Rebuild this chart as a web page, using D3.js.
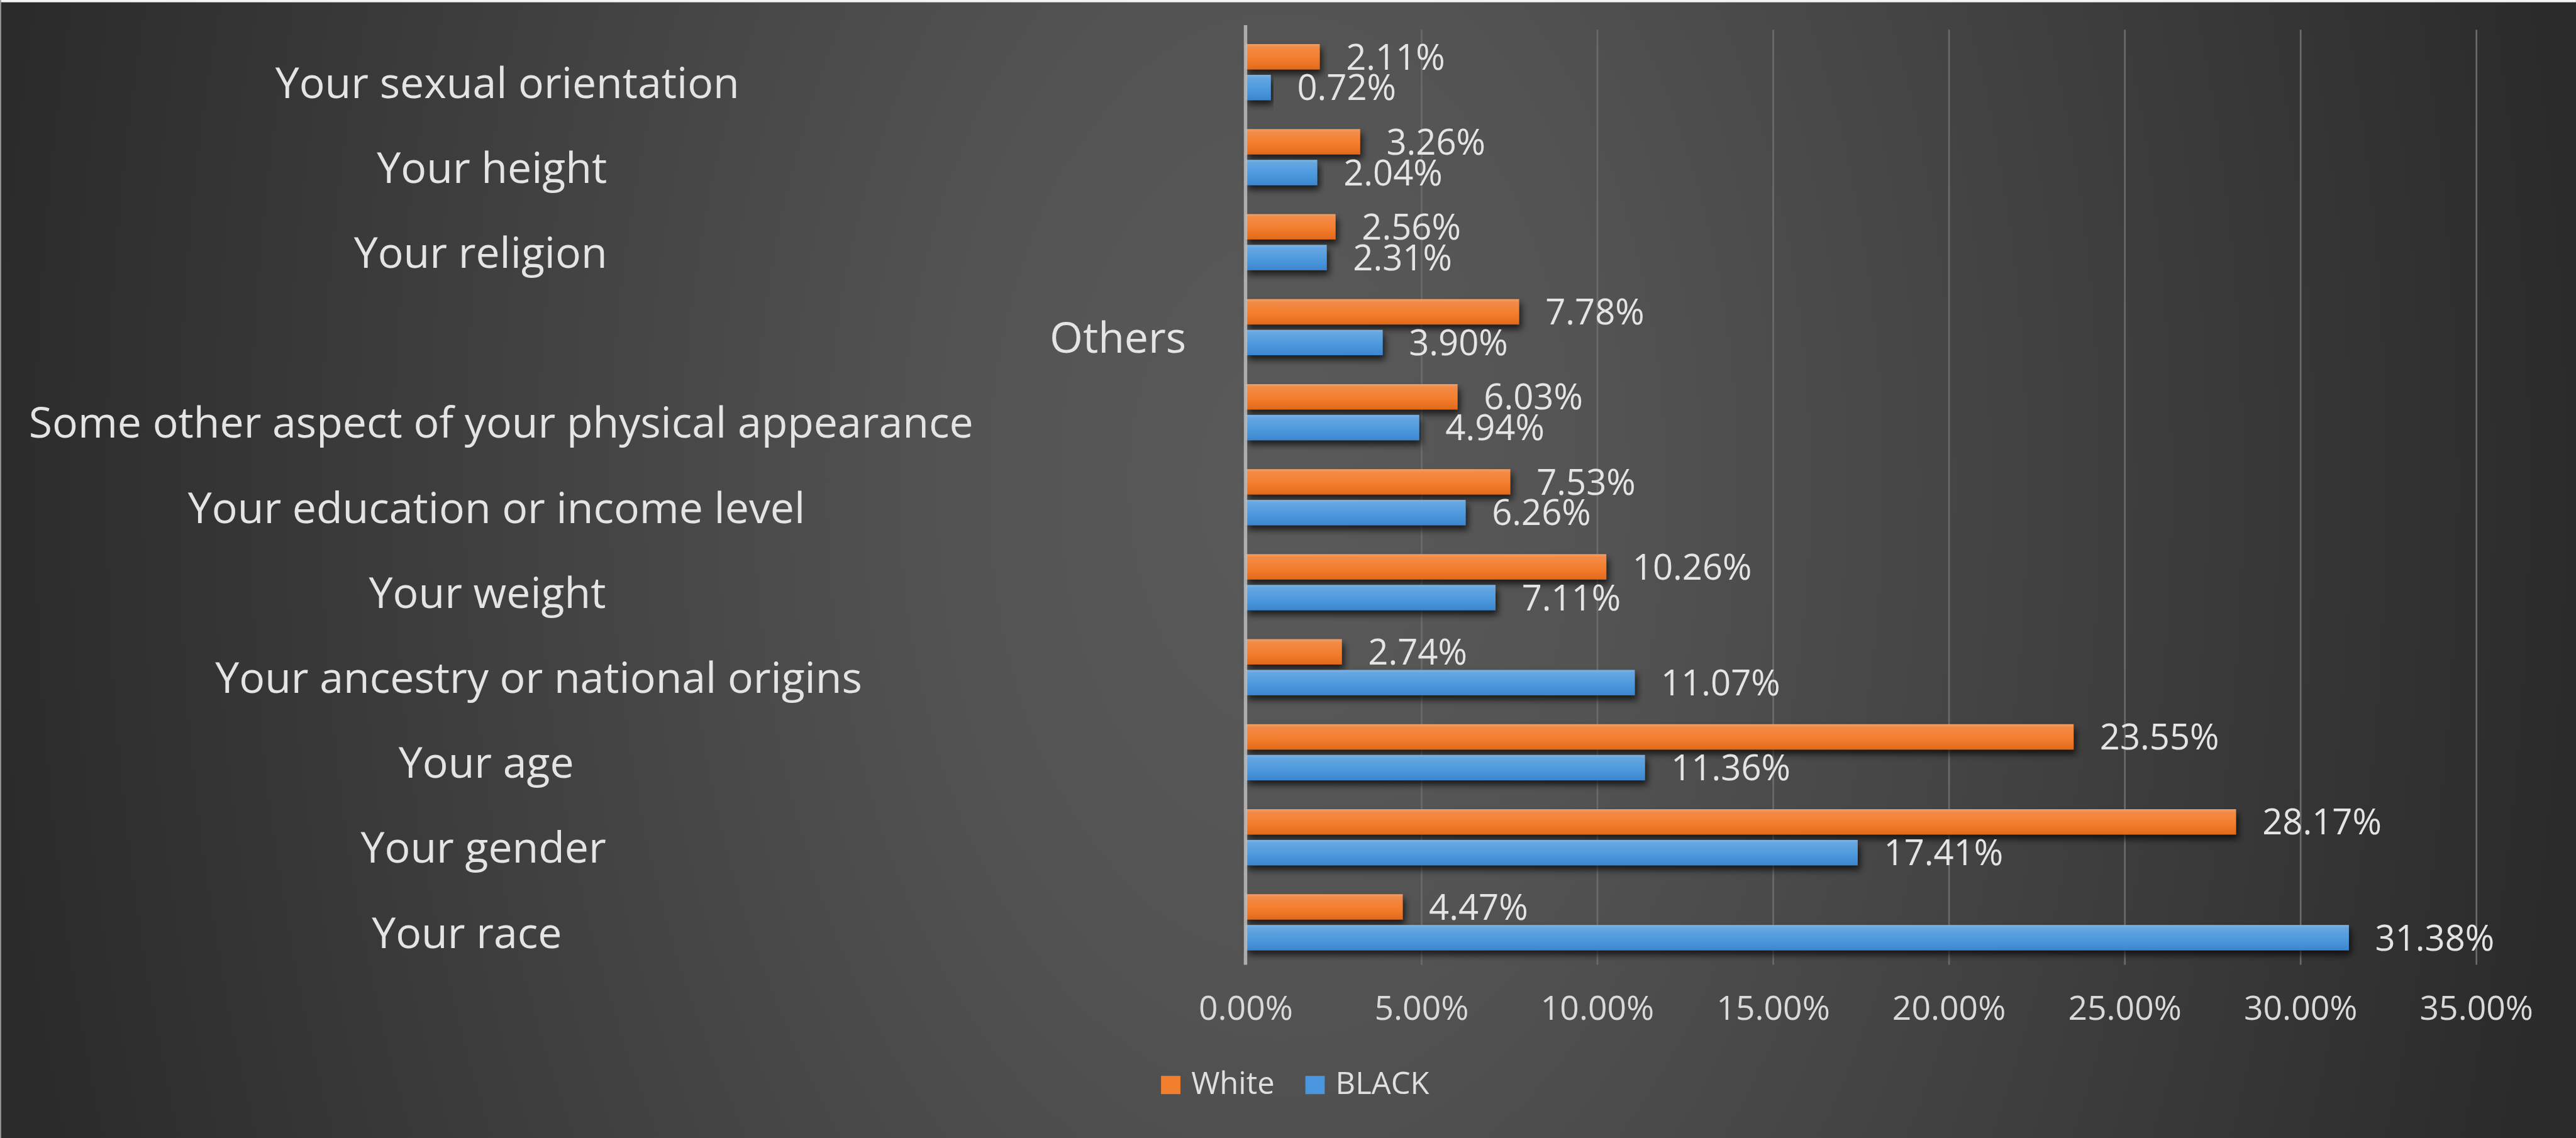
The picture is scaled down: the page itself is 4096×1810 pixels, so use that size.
<!DOCTYPE html>
<html>
<head>
<meta charset="utf-8">
<script src="https://cdn.jsdelivr.net/npm/d3@7"></script>
<style>
  html, body { margin: 0; padding: 0; background: #2a2a2a; overflow: hidden; }
  svg { display: block; }
  text { font-family: "Open Sans", Lato, sans-serif; }
</style>
</head>
<body>
<svg id="chart" width="4096" height="1810" viewBox="0 0 4519 1997"></svg>
<script>
// Categories, listed top to bottom as they appear on the chart
const categories = [
  "Your sexual orientation",
  "Your height",
  "Your religion",
  "Others",
  "Some other aspect of your physical appearance",
  "Your education or income level",
  "Your weight",
  "Your ancestry or national origins",
  "Your age",
  "Your gender",
  "Your race"
];

// Share of respondents (%) per group
const whiteValues = [2.11, 3.26, 2.56, 7.78, 6.03, 7.53, 10.26, 2.74, 23.55, 28.17, 4.47];
const blackValues = [0.72, 2.04, 2.31, 3.90, 4.94, 6.26, 7.11, 11.07, 11.36, 17.41, 31.38];

const seriesNames = ["White", "BLACK"];
const xTicks = [0, 5, 10, 15, 20, 25, 30, 35];

// Horizontal nudges for the category labels (layout only)
const labelDx = {
  "Your sexual orientation": 23, "Your height": -4, "Your religion": -24,
  "Some other aspect of your physical appearance": 12, "Your education or income level": 4,
  "Your weight": -12, "Your ancestry or national origins": 78, "Your age": -14,
  "Your gender": -19, "Your race": -48
};

const W = 4519, H = 1997;
const plot = { left: 2185, right: 4344, top: 52, bottom: 1693 };
const FONT = "'Open Sans', Lato, sans-serif";
const svg = d3.select("#chart");
const defs = svg.append("defs");

// Background: soft elliptical glow, darker toward the edges
const bg = defs.append("radialGradient").attr("id", "bgGrad")
  .attr("gradientUnits", "userSpaceOnUse")
  .attr("cx", 2250).attr("cy", 850).attr("r", 2300)
  .attr("gradientTransform", "translate(2250,850) scale(1,1.6) translate(-2250,-850)");
bg.append("stop").attr("offset", 0).attr("stop-color", "#5a5a5a");
bg.append("stop").attr("offset", 0.25).attr("stop-color", "#535353");
bg.append("stop").attr("offset", 0.6).attr("stop-color", "#404040");
bg.append("stop").attr("offset", 1).attr("stop-color", "#2a2a2a");

svg.append("rect").attr("width", W).attr("height", H).attr("fill", "url(#bgGrad)");
svg.append("rect").attr("width", W).attr("height", 4).attr("fill", "#f4f4f4");
svg.append("rect").attr("width", 2).attr("height", H).attr("fill", "#9a9a9a");

// Bar fills
function barGradient(id, stops) {
  const g = defs.append("linearGradient").attr("id", id)
    .attr("x1", 0).attr("y1", 0).attr("x2", 0).attr("y2", 1);
  stops.forEach(([o, c]) => g.append("stop").attr("offset", o).attr("stop-color", c));
}
barGradient("gradWhite", [[0, "#f2a068"], [0.12, "#f28b48"], [0.55, "#f47e2e"], [1, "#e2691b"]]);
barGradient("gradBlack", [[0, "#7db3e5"], [0.12, "#66a6e0"], [0.55, "#4e9ade"], [1, "#3c86cf"]]);

const shadow = defs.append("filter").attr("id", "barShadow")
  .attr("x", "-5%").attr("y", "-40%").attr("width", "115%").attr("height", "200%");
shadow.append("feDropShadow").attr("dx", 4).attr("dy", 8).attr("stdDeviation", 6)
  .attr("flood-color", "#000").attr("flood-opacity", 0.7);

// Scales
const x = d3.scaleLinear().domain([0, 35]).range([plot.left, plot.right]);
const y = d3.scaleBand().domain(categories).range([plot.top, plot.bottom]).padding(0);
const ySub = d3.scaleBand().domain(seriesNames).range([0, y.bandwidth()])
  .paddingInner(0.176).paddingOuter(0.47);

// Gridlines + tick labels via a bottom axis
const xAxis = d3.axisBottom(x).tickValues(xTicks)
  .tickSize(-(plot.bottom - plot.top)).tickFormat(d => d.toFixed(2) + "%");
const axisG = svg.append("g").attr("transform", `translate(0,${plot.bottom})`).call(xAxis);
axisG.select(".domain").remove();
axisG.selectAll(".tick line").attr("stroke", "#6a6a6a").attr("stroke-width", 3)
  .filter(d => d === 0).attr("stroke", "none");
axisG.selectAll(".tick text")
  .attr("y", 97).attr("dy", 0)
  .attr("fill", "#d9d9d9").attr("font-size", 59)
  .attr("font-family", FONT);

// Bars
const rows = categories.map((c, i) => ({ cat: c, values: [whiteValues[i], blackValues[i]] }));
const fills = { White: "url(#gradWhite)", BLACK: "url(#gradBlack)" };

const group = svg.append("g").selectAll("g").data(rows).join("g")
  .attr("transform", d => `translate(0,${y(d.cat)})`);

const cells = group.selectAll("g.cell")
  .data(d => seriesNames.map((s, k) => ({ series: s, value: d.values[k] })))
  .join("g").attr("class", "cell");

cells.append("rect")
  .attr("x", x(0))
  .attr("y", d => ySub(d.series))
  .attr("width", d => x(d.value) - x(0))
  .attr("height", ySub.bandwidth())
  .attr("fill", d => fills[d.series])
  .attr("filter", "url(#barShadow)");

cells.append("text")
  .attr("x", d => x(d.value) + 46)
  .attr("y", d => ySub(d.series) + ySub.bandwidth() / 2)
  .attr("dy", "0.36em")
  .attr("fill", "#e4e4e4").attr("font-size", 62)
  .text(d => d.value.toFixed(2) + "%");

// Zero axis line drawn over the bar bases
svg.append("line")
  .attr("x1", x(0)).attr("x2", x(0))
  .attr("y1", plot.top - 8).attr("y2", plot.bottom)
  .attr("stroke", "#bdbdbd").attr("stroke-opacity", 0.85).attr("stroke-width", 6);

// Category labels
svg.append("g").selectAll("text").data(categories).join("text")
  .attr("x", d => d === "Others" ? 2081 : 867 + (labelDx[d] || 0))
  .attr("y", d => y(d) + y.bandwidth() / 2 + 45)
  .attr("text-anchor", d => d === "Others" ? "end" : "middle")
  .attr("fill", "#e4e4e4").attr("font-size", 75)
  .text(d => d);

// Legend
const legend = svg.append("g");
const legendColors = { White: "#f17f2e", BLACK: "#4a96de" };
const items = legend.selectAll("g").data(seriesNames).join("g");
items.append("rect").attr("width", 34).attr("height", 32).attr("y", -32)
  .attr("fill", d => legendColors[d]);
items.append("text").attr("x", 53).attr("fill", "#e0e0e0").attr("font-size", 54).text(d => d);
let cursor = 0;
items.each(function () {
  const w = 53 + d3.select(this).select("text").node().getComputedTextLength();
  d3.select(this).attr("transform", `translate(${cursor},0)`);
  cursor += w + 54;
});
const legendWidth = cursor - 54;
legend.attr("transform", `translate(${2272 - legendWidth / 2},1920)`);
</script>
</body>
</html>
